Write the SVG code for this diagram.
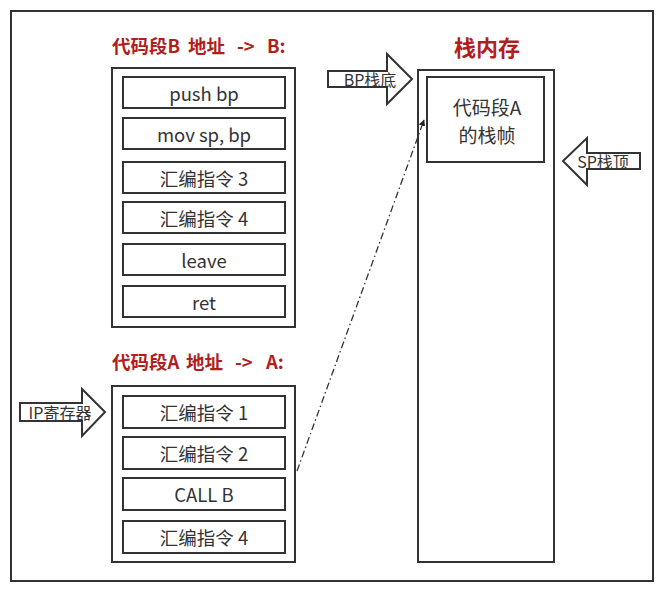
<svg xmlns="http://www.w3.org/2000/svg" width="662" height="591" viewBox="0 0 662 591">
<defs>
<style>
.box{fill:#fff;stroke:#333;stroke-width:2}
.t{font-family:"Noto Sans CJK SC","Noto Sans",sans-serif;font-size:18.5px;fill:#333;text-anchor:middle;dominant-baseline:central}
.f{font-family:"Noto Sans CJK SC","Noto Sans",sans-serif;font-size:19px;fill:#333;text-anchor:middle;dominant-baseline:central}
.s{font-family:"Noto Sans CJK SC","Noto Sans",sans-serif;font-size:16px;fill:#333;text-anchor:middle;dominant-baseline:central}
.h{font-family:"Noto Sans CJK SC","Noto Sans",sans-serif;font-size:18.5px;font-weight:bold;fill:#b21d1d;dominant-baseline:central}
.arr{fill:#fff;stroke:#333;stroke-width:2;stroke-linejoin:miter}
</style>
<marker id="ah" viewBox="0 0 10 10" refX="9" refY="5" markerWidth="5" markerHeight="5" orient="auto">
<path d="M0,0 L10,5 L0,10 z" fill="#222"/>
</marker>
</defs>
<rect x="0" y="0" width="662" height="591" fill="#fff"/>
<rect x="11" y="11" width="642" height="570" fill="#fff" stroke="#333" stroke-width="2"/>

<g id="titleB"><text class="h" y="45"><tspan x="112">代码段B</tspan><tspan x="188">地址</tspan><tspan x="237">-&gt;</tspan><tspan x="267">B:</tspan></text></g>
<g id="titleA"><text class="h" y="361"><tspan x="112">代码段A</tspan><tspan x="186">地址</tspan><tspan x="235">-&gt;</tspan><tspan x="266">A:</tspan></text></g>
<g id="titleStack"><text class="h" x="487" y="46" text-anchor="middle" style="font-size:22px">栈内存</text></g>

<g id="segB">
<rect class="box" x="112" y="68" width="183" height="259"/>
</g>
<g id="b1"><rect class="box" x="123" y="77" width="162" height="31"/><text class="t" x="204" y="93">push bp</text></g>
<g id="b2"><rect class="box" x="123" y="118" width="162" height="31"/><text class="t" x="204" y="134">mov sp, bp</text></g>
<g id="b3"><rect class="box" x="123" y="162" width="162" height="31"/><text class="t" x="204" y="178">汇编指令 3</text></g>
<g id="b4"><rect class="box" x="123" y="202" width="162" height="31"/><text class="t" x="204" y="218">汇编指令 4</text></g>
<g id="b5"><rect class="box" x="123" y="244" width="162" height="31"/><text class="t" x="204" y="260">leave</text></g>
<g id="b6"><rect class="box" x="123" y="286" width="162" height="31"/><text class="t" x="204" y="302">ret</text></g>

<g id="segA">
<rect class="box" x="112" y="386" width="183" height="176"/>
</g>
<g id="a1"><rect class="box" x="123" y="396" width="162" height="32"/><text class="t" x="204" y="412">汇编指令 1</text></g>
<g id="a2"><rect class="box" x="123" y="437" width="162" height="32"/><text class="t" x="204" y="453">汇编指令 2</text></g>
<g id="a3"><rect class="box" x="123" y="478" width="162" height="32"/><text class="t" x="204" y="494">CALL B</text></g>
<g id="a4"><rect class="box" x="123" y="521" width="162" height="32"/><text class="t" x="204" y="537">汇编指令 4</text></g>

<g id="stack"><rect class="box" x="418" y="70" width="136" height="492"/></g>
<g id="frameA"><rect class="box" x="427" y="77" width="117" height="85"/><text class="f" x="487" y="106">代码段A</text><text class="f" x="487" y="134">的栈帧</text></g>

<g id="bpArrow"><path class="arr" d="M328,71 H387 V54 L412,79 L387,104 V87 H328 Z"/><text class="s" x="370" y="79">BP栈底</text></g>
<g id="spArrow"><path class="arr" d="M640,153 H587 V138 L563,161 L587,185 V169 H640 Z"/><text class="s" x="603" y="161">SP栈顶</text></g>
<g id="ipArrow"><path class="arr" d="M20,403 H82 V389 L105,412 L82,436 V421 H20 Z"/><text class="s" x="60" y="412">IP寄存器</text></g>

<g id="connectors">
<line x1="297" y1="471" x2="424" y2="120" stroke="#333" stroke-width="1.3" stroke-dasharray="7 3 1.5 3" marker-end="url(#ah)"/>
</g>
</svg>
